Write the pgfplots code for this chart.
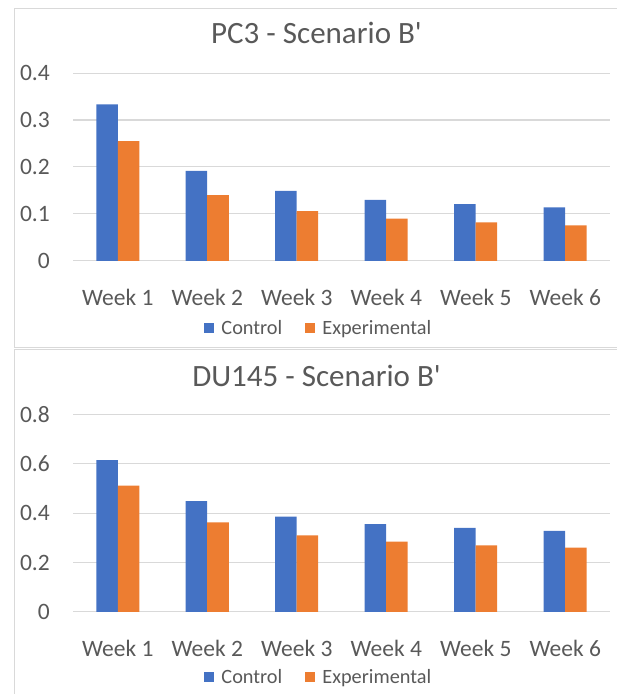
\documentclass[border=0pt]{standalone}
\usepackage{fontspec}
\setmainfont{Carlito}[Ligatures=TeXOff]
\usepackage{pgfplots}
\pgfplotsset{compat=1.18}
\definecolor{cblue}{HTML}{4472C4}
\definecolor{corange}{HTML}{ED7D31}
\definecolor{gridc}{HTML}{D9D9D9}
\definecolor{txt}{HTML}{595959}
\pgfplotsset{
 excelbar/.style={
  scale only axis, width=537pt,
  ybar=0pt, bar width=21.5pt,
  xmin=-0.5, xmax=5.5, xtick={0,...,5},
  xticklabels={Week 1,Week 2,Week 3,Week 4,Week 5,Week 6},
  ymin=0,
  ymajorgrids, grid style={gridc, line width=1pt},
  axis line style={draw=none}, major tick style={draw=none},
  tick label style={font=\fontsize{23.5}{28}\selectfont, text=txt, inner sep=0pt},
  /pgf/number format/assume math mode=true,
  xticklabel style={anchor=base, yshift=-40pt},
  yticklabel style={anchor=east, xshift=-23pt},
  legend columns=2,
  legend image code/.code={\fill[##1] (0pt,-5pt) rectangle (10pt,5pt);},
  legend style={draw=none, fill=none, font=\fontsize{20.3}{24}\selectfont, text=txt,
    anchor=center, nodes={inner sep=0pt},
    /tikz/column 1/.style={column sep=7pt},
    /tikz/column 2/.style={column sep=23pt},
    /tikz/column 3/.style={column sep=7pt}},
 }
}
\begin{document}
\begin{tikzpicture}
% panel borders
\draw[gridc, line width=1pt] (14.3pt,685.7pt) rectangle (640pt,346.7pt);
\draw[gridc, line width=1pt] (14.3pt,344pt) rectangle (640pt,-20pt);
% titles
\node[anchor=base, inner sep=0pt, text=txt, font=\fontsize{31}{36}\selectfont] at (316.5pt,650pt) {PC3 - Scenario B'};
\node[anchor=base, inner sep=0pt, text=txt, font=\fontsize{31}{36}\selectfont] at (316.5pt,307pt) {DU145 - Scenario B'};
% top axis
\begin{axis}[excelbar, height=188pt, anchor=south west, at={(73pt,433pt)},
  ymax=0.4, ytick={0,0.1,0.2,0.3,0.4},
  legend style={at={(0.456,-0.356)}}]
\addplot[fill=cblue, draw=none] coordinates {(0,0.333) (1,0.192) (2,0.149) (3,0.130) (4,0.121) (5,0.114)};
\addplot[fill=corange, draw=none] coordinates {(0,0.255) (1,0.140) (2,0.106) (3,0.090) (4,0.082) (5,0.076)};
\legend{Control, Experimental}
\end{axis}
% bottom axis
\begin{axis}[excelbar, height=197.7pt, anchor=south west, at={(73pt,82pt)},
  ymax=0.8, ytick={0,0.2,0.4,0.6,0.8},
  legend style={at={(0.456,-0.329)}}]
\addplot[fill=cblue, draw=none] coordinates {(0,0.615) (1,0.449) (2,0.386) (3,0.356) (4,0.340) (5,0.328)};
\addplot[fill=corange, draw=none] coordinates {(0,0.511) (1,0.363) (2,0.310) (3,0.285) (4,0.270) (5,0.260)};
\legend{Control, Experimental}
\end{axis}
\pgfresetboundingbox
\path[use as bounding box] (0,0) rectangle (617pt,694pt);
\end{tikzpicture}
\end{document}
